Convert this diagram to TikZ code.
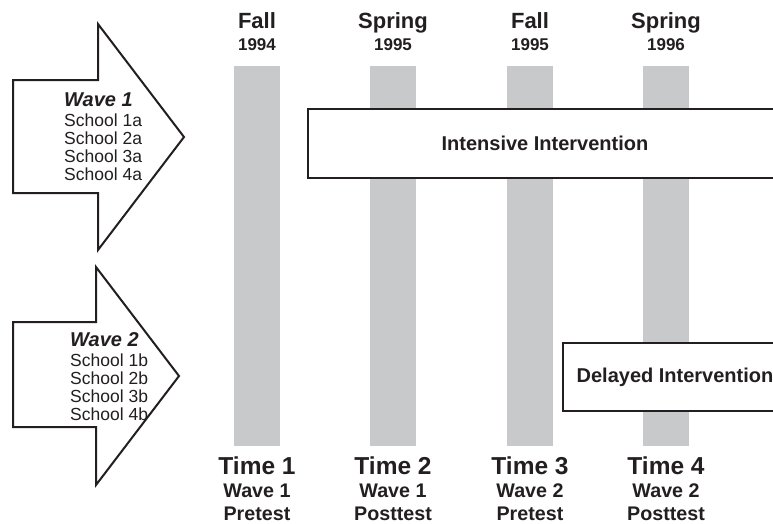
\documentclass[tikz,border=0pt]{standalone}
\usepackage{fontspec}
\setmainfont{Liberation Sans}
\usetikzlibrary{positioning}
\definecolor{barGray}{HTML}{C8C9CB}
\definecolor{inkBlack}{HTML}{231F20}

\begin{document}
\begin{tikzpicture}[x=1pt,y=-1pt,inkBlack,
  bar/.style={fill=barGray,draw=none},
  wavearrow/.style={draw=inkBlack,fill=white,line width=2pt,line join=miter},
  phasebox/.style={draw=inkBlack,fill=white,line width=2pt,inner sep=0pt,font=\fontsize{20}{24}\selectfont\bfseries},
  season/.style={font=\fontsize{22}{26}\selectfont\bfseries,inner sep=0pt,anchor=base},
  yearlbl/.style={font=\fontsize{17}{20}\selectfont\bfseries,inner sep=0pt,anchor=base},
  timelbl/.style={font=\fontsize{24.5}{28}\selectfont\bfseries,inner sep=0pt,anchor=base},
  testlbl/.style={font=\fontsize{19.7}{22}\selectfont\bfseries,inner sep=0pt,anchor=base},
  schools/.style={align=left,inner sep=0pt,font=\fontsize{17.5}{18}\selectfont}]
\useasboundingbox (0,0) rectangle (773,523);
\clip (0,0) rectangle (773,523);

% measurement bars and their labels
\foreach \x/\season/\year/\wave/\test [count=\i] in
  {257/Fall/1994/1/Pretest, 393/Spring/1995/1/Posttest,
   530/Fall/1995/2/Pretest, 666/Spring/1996/2/Posttest} {
  \fill[bar] (\x-23,66) rectangle (\x+23,446);
  \node[season] (season\i) at (\x,28) {\season};
  \node[yearlbl] (year\i) at (\x,50) {\year};
  \node[timelbl] (time\i) at (\x,474) {Time \i};
  \node[testlbl] (wave\i) at (\x,497.5) {Wave \wave};
  \node[testlbl] (test\i) at (\x,520) {\test};
}

% the two waves of schools
\draw[wavearrow] (13,80) -- (98,80) -- (98,24) -- (184,137) -- (98,250)
  -- (98,193) -- (13,193) -- cycle;
\draw[wavearrow] (13,322) -- (96,322) -- (96,267) -- (179,376) -- (96,485)
  -- (96,427) -- (13,427) -- cycle;
\node[schools,anchor=west] (wave1list) at (64,137)
  {{\fontsize{20}{20}\selectfont\bfseries\itshape Wave 1}\\[2pt]
   School 1a\\School 2a\\School 3a\\School 4a};
\node[schools,anchor=west] (wave2list) at (70,377)
  {{\fontsize{20}{20}\selectfont\bfseries\itshape Wave 2}\\[2pt]
   School 1b\\School 2b\\School 3b\\School 4b};

% interventions
\node[phasebox,minimum width=474pt,minimum height=69pt] (intensive)
  at (545,143.5) {Intensive Intervention};
\node[phasebox,minimum width=224pt,minimum height=68pt] (delayed)
  at (675,377) {Delayed Intervention};
\end{tikzpicture}
\end{document}
